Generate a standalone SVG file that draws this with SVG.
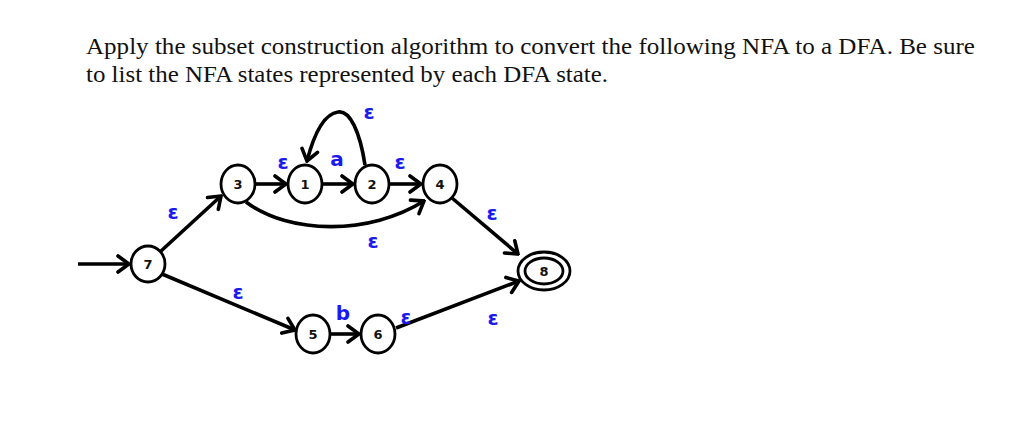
<svg xmlns="http://www.w3.org/2000/svg" width="1017" height="431" viewBox="0 0 1017 431">
<style>
.q{font-family:"Liberation Serif","Times New Roman",serif;font-size:23px;fill:#111}
.st{fill:#fff;stroke:#000;stroke-width:2.8}
.nl{font-family:"DejaVu Sans","Liberation Sans",sans-serif;font-size:13px;font-weight:bold;fill:#111;text-anchor:middle;dominant-baseline:central}
.e{stroke:#000;stroke-width:3.6;fill:none;marker-end:url(#ah)}
.lb{font-family:"DejaVu Sans","Liberation Sans",sans-serif;font-size:20px;font-weight:bold;fill:#1a1aee;text-anchor:middle}
</style>
<defs>
<marker id="ah" viewBox="-14 -10 16 20" markerWidth="16" markerHeight="20" refX="0" refY="0" orient="auto" markerUnits="userSpaceOnUse">
<path d="M -11 -8 L 0 0 L -11 8" fill="none" stroke="#000" stroke-width="3.6" stroke-linecap="round" stroke-linejoin="miter"/>
</marker>
</defs>
<rect width="1017" height="431" fill="#fff"/>
<text class="q" x="86" y="54" textLength="889" lengthAdjust="spacingAndGlyphs">Apply the subset construction algorithm to convert the following NFA to a DFA. Be sure</text>
<text class="q" x="86" y="82" textLength="522" lengthAdjust="spacingAndGlyphs">to list the NFA states represented by each DFA state.</text>
<g id="connectors">
<line class="e" x1="78" y1="264" x2="129" y2="264"/>
<line class="e" x1="161" y1="251" x2="221" y2="196"/>
<line class="e" x1="256" y1="184" x2="286" y2="184"/>
<line class="e" x1="322" y1="184" x2="353" y2="184"/>
<path class="e" d="M 365 165 C 360 132 350 110 338 112 C 324 114 314 134 307 161"/>
<line class="e" x1="389" y1="184" x2="421" y2="184"/>
<path class="e" d="M 246 202 C 290 235 370 235 424 201"/>
<line class="e" x1="452" y1="198" x2="518" y2="254"/>
<line class="e" x1="162" y1="274" x2="295" y2="330"/>
<line class="e" x1="330" y1="334" x2="359" y2="334"/>
<line class="e" x1="396" y1="328" x2="519" y2="281"/>
</g>
<g id="labels">
<text class="lb" x="173" y="219">ε</text>
<text class="lb" x="283" y="169">ε</text>
<text class="lb" x="337" y="166">a</text>
<text class="lb" x="369" y="119">ε</text>
<text class="lb" x="400" y="169">ε</text>
<text class="lb" x="373" y="248">ε</text>
<text class="lb" x="492" y="220">ε</text>
<text class="lb" x="238" y="299">ε</text>
<text class="lb" x="343" y="320">b</text>
<text class="lb" x="406" y="324">ε</text>
<text class="lb" x="493" y="325">ε</text>
</g>
<g id="node-7"><ellipse class="st" cx="148" cy="264" rx="17" ry="18"/><text class="nl" x="148" y="264">7</text></g>
<g id="node-3"><ellipse class="st" cx="238" cy="184" rx="17" ry="19"/><text class="nl" x="238" y="184">3</text></g>
<g id="node-1"><ellipse class="st" cx="305" cy="184" rx="17" ry="19"/><text class="nl" x="305" y="184">1</text></g>
<g id="node-2"><ellipse class="st" cx="372" cy="184" rx="17" ry="19"/><text class="nl" x="372" y="184">2</text></g>
<g id="node-4"><ellipse class="st" cx="440" cy="184" rx="17" ry="19"/><text class="nl" x="440" y="184">4</text></g>
<g id="node-5"><ellipse class="st" cx="313" cy="334" rx="17" ry="19"/><text class="nl" x="313" y="334">5</text></g>
<g id="node-6"><ellipse class="st" cx="378" cy="334" rx="17" ry="19"/><text class="nl" x="378" y="334">6</text></g>
<g id="node-8"><ellipse class="st" cx="544" cy="271" rx="26" ry="19"/><ellipse class="st" cx="544" cy="271" rx="19" ry="13"/><text class="nl" x="544" y="271">8</text></g>
</svg>
